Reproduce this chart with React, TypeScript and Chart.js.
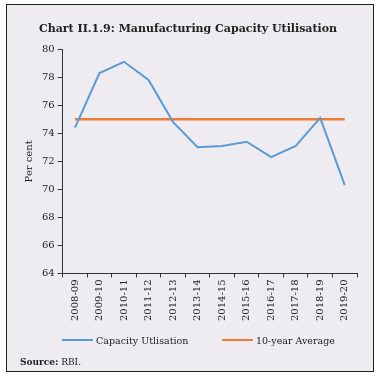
import React, { useEffect, useRef } from "react";
import { Chart, registerables } from "chart.js";

Chart.register(...registerables);

const categories = [
  "2008-09", "2009-10", "2010-11", "2011-12", "2012-13", "2013-14",
  "2014-15", "2015-16", "2016-17", "2017-18", "2018-19", "2019-20",
];
const capacityUtilisation = [74.4, 78.3, 79.1, 77.8, 74.8, 73.0, 73.1, 73.4, 72.3, 73.1, 75.1, 70.3];
const tenYearAverage = [75.0, 75.0, 75.0, 75.0, 75.0, 75.0, 75.0, 75.0, 75.0, 75.0, 75.0, 75.0];
const seriesNames = ["Capacity Utlisation", "10-year Average"];
const seriesColors = ["#5B9BD5", "#ED7D31"];
const yTicksMin = 64;
const yTicksMax = 80;
const yStep = 2;

const FONT = "'DejaVu Serif', serif";
const BG = "#EEEBF1";

export default function App() {
  const ref = useRef<HTMLCanvasElement | null>(null);

  useEffect(() => {
    if (!ref.current) return;
    const chart = new Chart(ref.current, {
      type: "line",
      data: {
        labels: categories,
        datasets: [
          {
            label: seriesNames[0],
            data: capacityUtilisation,
            borderColor: seriesColors[0],
            backgroundColor: seriesColors[0],
            borderWidth: 2,
            pointRadius: 0,
            tension: 0,
          },
          {
            label: seriesNames[1],
            data: tenYearAverage,
            borderColor: seriesColors[1],
            backgroundColor: seriesColors[1],
            borderWidth: 2.5,
            pointRadius: 0,
            tension: 0,
          },
        ],
      },
      options: {
        animation: false,
        responsive: false,
        maintainAspectRatio: false,
        layout: { padding: { left: 19, right: 23, top: 0, bottom: 57 } },
        plugins: {
          title: {
            display: true,
            text: "Chart II.1.9: Manufacturing Capacity Utilisation",
            color: "#222",
            font: { family: FONT, size: 11, weight: "bold" },
            padding: { top: 23, bottom: 13 },
          },
          legend: { display: false },
          tooltip: { enabled: false },
        },
        scales: {
          x: {
            offset: true,
            grid: { offset: true, drawOnChartArea: false, drawTicks: true, tickLength: 4, color: "#333" },
            border: { display: true, color: "#333", width: 1 },
            ticks: {
              color: "#222",
              font: { family: FONT, size: 10 },
              minRotation: 90,
              maxRotation: 90,
              autoSkip: false,
              padding: 2,
            },
          },
          y: {
            min: yTicksMin,
            max: yTicksMax,
            grid: { drawOnChartArea: false, drawTicks: true, tickLength: 5, color: "#333" },
            border: { display: true, color: "#333", width: 1 },
            ticks: {
              stepSize: yStep,
              color: "#222",
              font: { family: FONT, size: 10 },
              padding: 3,
            },
            title: {
              display: true,
              text: "Per cent",
              color: "#222",
              font: { family: FONT, size: 10 },
              padding: 4,
            },
          },
        },
      },
    });
    return () => chart.destroy();
  }, []);

  const legendItem = (i: number, left: number) => (
    <div
      key={i}
      style={{
        position: "absolute",
        left,
        top: 333,
        height: 14,
        display: "flex",
        alignItems: "center",
        fontFamily: FONT,
        fontSize: 9.5,
        color: "#222",
        whiteSpace: "nowrap",
      }}
    >
      <span style={{ display: "inline-block", width: 31, height: 2.5, background: seriesColors[i], marginRight: 3 }} />
      <span>{seriesNames[i]}</span>
    </div>
  );

  return (
    <div style={{ position: "fixed", left: 0, top: 0, width: 380, height: 380, background: "#fff" }}>
      <div
        style={{
          position: "absolute",
          left: 6,
          top: 4,
          width: 366,
          height: 366,
          border: "1.5px solid #222",
          background: BG,
        }}
      />
      <canvas ref={ref} width={380} height={380} style={{ position: "absolute", left: 0, top: 0 }} />
      {legendItem(0, 62)}
      {legendItem(1, 222)}
      <div
        style={{
          position: "absolute",
          left: 20,
          top: 356,
          fontFamily: FONT,
          fontSize: 9,
          color: "#222",
          lineHeight: "12px",
        }}
      >
        <b>Source:</b> RBI.
      </div>
    </div>
  );
}
